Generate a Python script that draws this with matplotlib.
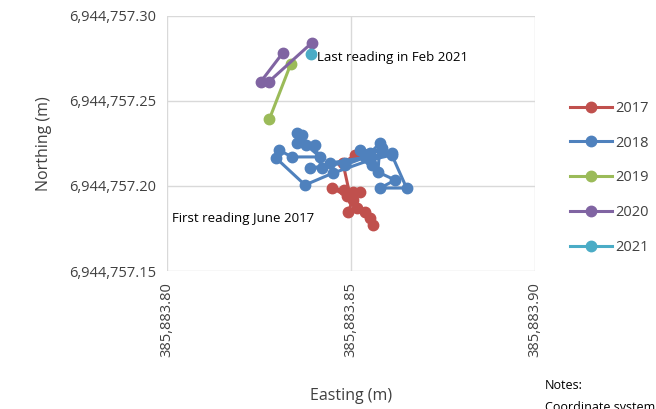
import matplotlib.pyplot as plt
from matplotlib.ticker import FuncFormatter

plt.rcParams.update({
    "font.family": ["Open Sans", "DejaVu Sans"],
    "font.size": 10,
})

C_TEXT = "#404040"
C_GRID = "#d9d9d9"

# survey readings, Easting / Northing (m)
e_2017 = [385883.8561, 385883.8552, 385883.8538, 385883.8516, 385883.8492, 385883.8505, 385883.8489,
          385883.8448, 385883.8481, 385883.8505, 385883.8524, 385883.8497, 385883.8478, 385883.8511]
n_2017 = [6944757.1771, 6944757.1812, 6944757.1847, 6944757.1871, 6944757.1847, 6944757.1918, 6944757.1941,
          6944757.1988, 6944757.1976, 6944757.1965, 6944757.1965, 6944757.1947, 6944757.2135, 6944757.2182]

e_2018 = [385883.8484, 385883.8541, 385883.8552, 385883.8579, 385883.8573, 385883.8620, 385883.8579,
          385883.8651, 385883.8611, 385883.8552, 385883.8451, 385883.8375, 385883.8296, 385883.8304,
          385883.8339, 385883.8416, 385883.8378, 385883.8353, 385883.8367, 385883.8353, 385883.8402,
          385883.8420, 385883.8389, 385883.8484, 385883.8538, 385883.8583, 385883.8557, 385883.8524,
          385883.8611, 385883.8443]
n_2018 = [6944757.2124, 6944757.2171, 6944757.2194, 6944757.2253, 6944757.2082, 6944757.2035, 6944757.1988,
          6944757.1988, 6944757.2182, 6944757.2153, 6944757.2076, 6944757.2006, 6944757.2165, 6944757.2212,
          6944757.2171, 6944757.2171, 6944757.2241, 6944757.2312, 6944757.2300, 6944757.2253, 6944757.2241,
          6944757.2106, 6944757.2106, 6944757.2135, 6944757.2171, 6944757.2224, 6944757.2124, 6944757.2212,
          6944757.2194, 6944757.2135]

e_2019 = [385883.8278, 385883.8336]
n_2019 = [6944757.2393, 6944757.2716]

e_2020 = [385883.8315, 385883.8255, 385883.8277, 385883.8394]
n_2020 = [6944757.2784, 6944757.2614, 6944757.2614, 6944757.2843]

e_2021 = [385883.8392]
n_2021 = [6944757.2775]

x_ticks = [385883.80, 385883.85, 385883.90]
y_ticks = [6944757.15, 6944757.20, 6944757.25, 6944757.30]

SERIES = [
    ("2017", e_2017, n_2017, "#C0504D"),
    ("2018", e_2018, n_2018, "#4F81BD"),
    ("2019", e_2019, n_2019, "#9BBB59"),
    ("2020", e_2020, n_2020, "#8064A2"),
    ("2021", e_2021, n_2021, "#4BACC6"),
]

fig = plt.figure(figsize=(6.56, 4.09), dpi=100)
ax = fig.add_axes([0.2546, 0.3374, 0.561, 0.6235])

handles = []
for name, xs, ys, col in SERIES:
    h, = ax.plot(xs, ys, "-o", color=col, lw=2.2, ms=7.5, label=name)
    handles.append(h)

ax.set_xticks(x_ticks)
ax.set_yticks(y_ticks)
ax.set_xlim(x_ticks[0], x_ticks[-1])
ax.set_ylim(y_ticks[0], y_ticks[-1])
ax.xaxis.set_major_formatter(FuncFormatter(lambda v, p: f"{v:,.2f}"))
ax.yaxis.set_major_formatter(FuncFormatter(lambda v, p: f"{v:,.2f}"))
ax.grid(True, color=C_GRID, lw=1)
ax.set_axisbelow(True)
for s in ax.spines.values():
    s.set_visible(False)
ax.tick_params(length=0, colors=C_TEXT, labelsize=10.5, pad=8)
plt.setp(ax.get_xticklabels(), rotation=90)

ax.set_xlabel("Easting (m)", color=C_TEXT, fontsize=11.5, labelpad=22)
ax.set_ylabel("Northing (m)", color=C_TEXT, fontsize=11.5, labelpad=12)

ax.text(385883.8408, 6944757.2753, "Last reading in Feb 2021", fontsize=9.5, color="black", va="center")
ax.text(385883.8014, 6944757.1806, "First reading June 2017", fontsize=9.5, color="black", va="center")

fig.legend(handles=handles, loc="center left", bbox_to_anchor=(0.869, 0.565),
           frameon=False, fontsize=10.5, labelspacing=1.36, handlelength=2.9,
           handletextpad=0.2, borderpad=0, borderaxespad=0, labelcolor=C_TEXT)

fig.text(0.831, 0.048, "Notes:", fontsize=9, color="black")
fig.text(0.831, -0.005, "Coordinate system", fontsize=9, color="black")

fig.savefig("out.png", dpi=100)
